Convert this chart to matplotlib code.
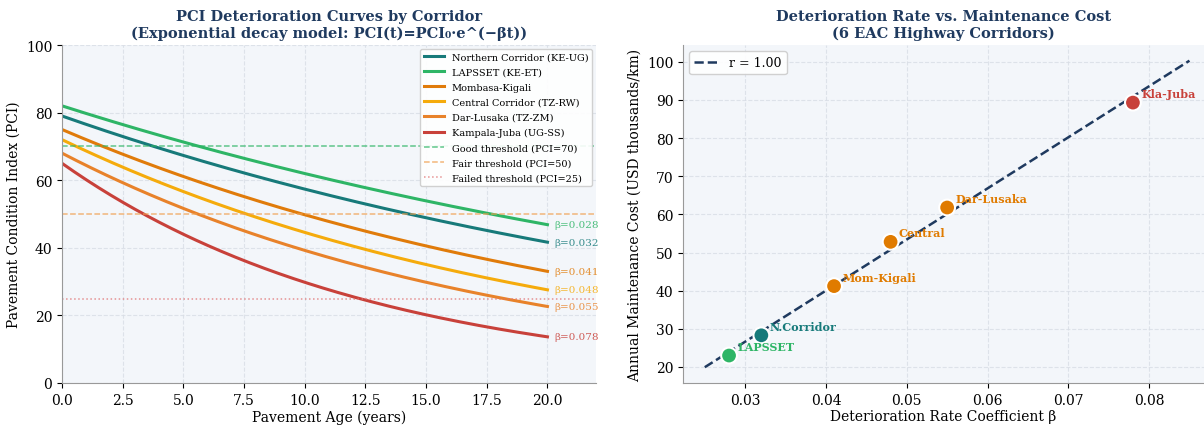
import numpy as np
import matplotlib
matplotlib.use("Agg")
import matplotlib.pyplot as plt

plt.rcParams['font.family'] = ['DejaVu Serif']

# corridor data
corridors = ["Northern Corridor (KE-UG)", "LAPSSET (KE-ET)", "Mombasa-Kigali",
             "Central Corridor (TZ-RW)", "Dar-Lusaka (TZ-ZM)", "Kampala-Juba (UG-SS)"]
short_names = ["N.Corridor", "LAPSSET", "Mom-Kigali", "Central", "Dar-Lusaka", "Kla-Juba"]
pci0 = [79, 82, 75, 72, 68, 65]
beta = [0.032, 0.028, 0.041, 0.048, 0.055, 0.078]
maint_cost = [28.3, 23.0, 41.2, 52.8, 61.8, 89.3]
colors = ["#177a7a", "#2eb566", "#e07b0a", "#f5ab0c", "#e8822a", "#c8413a"]
scatter_colors = ["#177a7a", "#2eb566", "#e07b00", "#e07b00", "#e07b00", "#c8413a"]

thresholds = [70, 50, 25]
thr_labels = ["Good threshold (PCI=70)", "Fair threshold (PCI=50)", "Failed threshold (PCI=25)"]
thr_colors = ["#2eb566", "#f0a050", "#e07070"]
thr_styles = ["--", "--", ":"]

title_color = "#1f3a5f"
bg = "#f3f6fa"

fig = plt.figure(figsize=(12.04, 4.27), dpi=100)
ax1 = fig.add_axes([62/1204, 43/427, 534/1204, 338/427])
ax2 = fig.add_axes([683/1204, 43/427, 521/1204, 338/427])

t = np.linspace(0, 20, 200)
for name, p0, b, c in zip(corridors, pci0, beta, colors):
    y = p0 * np.exp(-b * t)
    ax1.plot(t, y, color=c, lw=2.2, label=name)
    ax1.text(20.3, y[-1], f"β={b:.3f}", color=c, fontsize=7.5, va="center", alpha=0.85)

for v, lab, c, ls in zip(thresholds, thr_labels, thr_colors, thr_styles):
    ax1.axhline(v, color=c, ls=ls, lw=1.1, alpha=0.75, label=lab)

ax1.set_xlim(0, 22)
ax1.set_ylim(0, 100)
ax1.set_xlabel("Pavement Age (years)", fontsize=10, labelpad=2)
ax1.set_ylabel("Pavement Condition Index (PCI)", fontsize=10)
ax1.set_title("PCI Deterioration Curves by Corridor\n(Exponential decay model: PCI(t)=PCI₀·e^(−βt))",
              fontsize=10.5, fontweight="bold", color=title_color)
ax1.legend(loc="upper right", fontsize=7, labelspacing=0.62, framealpha=0.9,
           borderaxespad=0.4)

# right panel
ax2.scatter(beta, maint_cost, c=scatter_colors, s=130, edgecolors="white", linewidths=1.5, zorder=3)
for x, y, n, c in zip(beta, maint_cost, short_names, scatter_colors):
    ax2.annotate(n, (x, y), xytext=(6, 4), textcoords="offset points",
                 fontsize=8, fontweight="bold", color=c)
coef = np.polyfit(beta, maint_cost, 1)
r = np.corrcoef(beta, maint_cost)[0, 1]
xl = np.linspace(0.025, 0.085, 50)
ax2.plot(xl, np.polyval(coef, xl), "--", color=title_color, lw=1.8, label=f"r = {r:.2f}", zorder=2)
ax2.set_xlim(0.0223, 0.0868)
ax2.set_ylim(15.8, 104.4)
ax2.set_xlabel("Deterioration Rate Coefficient β", fontsize=10, labelpad=2)
ax2.set_ylabel("Annual Maintenance Cost (USD thousands/km)", fontsize=10)
ax2.set_title("Deterioration Rate vs. Maintenance Cost\n(6 EAC Highway Corridors)",
              fontsize=10.5, fontweight="bold", color=title_color)
ax2.legend(loc="upper left", fontsize=9, framealpha=0.9)

for ax in (ax1, ax2):
    ax.set_facecolor(bg)
    ax.grid(True, ls="--", color="#d8dde5", lw=0.8, alpha=0.8)
    ax.set_axisbelow(True)
    ax.spines["top"].set_visible(False)
    ax.spines["right"].set_visible(False)
    for s in ("left", "bottom"):
        ax.spines[s].set_color("#999999")
    ax.tick_params(labelsize=10)

fig.savefig("out.png", dpi=100)
